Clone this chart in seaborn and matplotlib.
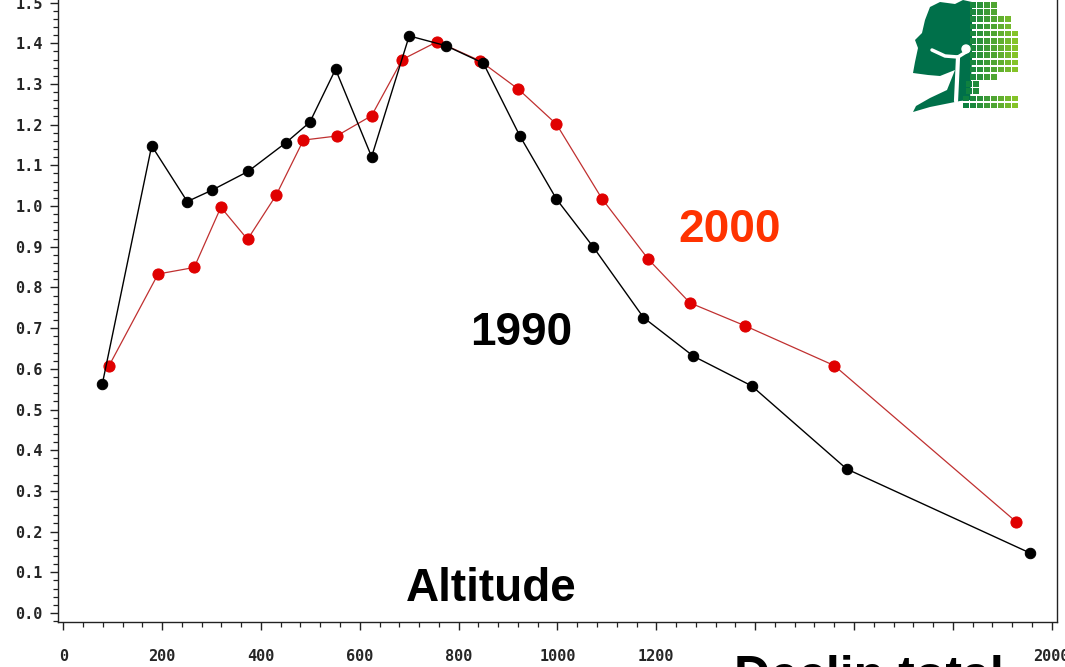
import numpy as np
import pandas as pd
import matplotlib
matplotlib.use('Agg')
import matplotlib.pyplot as plt
import seaborn as sns
from matplotlib.ticker import MultipleLocator
from matplotlib.patches import Polygon, Rectangle, Circle

# Werte
alt_1990 = [79, 179, 251, 301, 374, 451, 499, 551, 624, 700, 774, 850,
            924, 998, 1072, 1174, 1275, 1393, 1585, 1955]
val_1990 = [0.562, 1.148, 1.011, 1.039, 1.085, 1.156, 1.206, 1.336, 1.121, 1.418,
            1.394, 1.351, 1.172, 1.017, 0.900, 0.726, 0.631, 0.558, 0.354, 0.148]

alt_2000 = [93, 192, 265, 319, 373, 431, 486, 553, 624, 686, 757, 843,
            921, 998, 1090, 1184, 1268, 1379, 1560, 1928]
val_2000 = [0.608, 0.833, 0.849, 0.997, 0.918, 1.027, 1.162, 1.172, 1.222, 1.360,
            1.404, 1.357, 1.287, 1.201, 1.018, 0.869, 0.762, 0.706, 0.608, 0.224]

x_ticks = [0, 200, 400, 600, 800, 1000, 1200, 1400, 1600, 1800, 2000]
# 1400-1800 sind in der Vorlage vom Text unten verdeckt
x_labels = ['0', '200', '400', '600', '800', '1000', '1200', '', '', '', '2000']

df90 = pd.DataFrame({'alt': alt_1990, 'val': val_1990})
df00 = pd.DataFrame({'alt': alt_2000, 'val': val_2000})

sns.set_style('white')
plt.rcParams['font.family'] = ['Liberation Sans', 'DejaVu Sans']

W, H = 1065, 667
fig = plt.figure(figsize=(W / 100, H / 100), dpi=100)
ax = fig.add_axes([0.0547, 0.0679, 0.9375, 0.9405])

# 2000 zuerst, 1990 darueber
sns.lineplot(data=df00, x='alt', y='val', ax=ax, sort=False, estimator=None,
             color='#c03030', linewidth=0.9, marker='o', markersize=8,
             markerfacecolor='#e00000', markeredgecolor='#e00000')
sns.lineplot(data=df90, x='alt', y='val', ax=ax, sort=False, estimator=None,
             color='black', linewidth=1.0, marker='o', markersize=7.5,
             markerfacecolor='black', markeredgecolor='black')

ax.set_xlim(-10, 2010)
ax.set_ylim(-0.0214, 1.52)
ax.set_xticks(x_ticks)
ax.set_xticklabels(x_labels)
ax.xaxis.set_minor_locator(MultipleLocator(40))
ax.yaxis.set_major_locator(MultipleLocator(0.1))
ax.yaxis.set_minor_locator(MultipleLocator(0.02))
ax.set_xlabel('')
ax.set_ylabel('')

for s in ['left', 'bottom', 'right', 'top']:
    ax.spines[s].set_color('#222222')
    ax.spines[s].set_linewidth(1.0)

ax.tick_params(which='major', direction='out', length=6, width=1.0, color='#222222')
ax.tick_params(which='minor', direction='out', length=3.5, width=0.9, color='#222222')
ax.tick_params(axis='x', which='major', pad=14)
ax.tick_params(axis='y', which='major', pad=5)
ax.tick_params(axis='x', which='both', bottom=True, top=False)
ax.tick_params(axis='y', which='both', left=True, right=False)
for lab in ax.get_xticklabels() + ax.get_yticklabels():
    lab.set_fontfamily('DejaVu Sans Mono')
    lab.set_fontweight('bold')
    lab.set_fontsize(11)

# Beschriftungen (Positionen in Pixeln der Vorlage)
fig.text(730 / W, 1 - 230 / H, '2000', color='#ff3300', fontsize=33,
         fontweight='bold', ha='center', va='center')
fig.text(521 / W, 1 - 333 / H, '1990', color='black', fontsize=33,
         fontweight='bold', ha='center', va='center')
fig.text(491 / W, 1 - 589 / H, 'Altitude', color='black', fontsize=33,
         fontweight='bold', ha='center', va='center')
fig.text(734 / W, 1 - 655 / H, 'Declin total', color='black', fontsize=36,
         fontweight='bold', ha='left', va='top', zorder=10)

# Logo (Baum) oben rechts, vereinfacht
lg = fig.add_axes([905 / W, 1 - 115 / H, 115 / W, 115 / H])
lg.set_xlim(905, 1020)
lg.set_ylim(115, 0)
lg.axis('off')
crown = [(930, 7), (940, 2), (955, 4), (963, 0), (972, 2), (972, 60), (970, 100),
         (960, 101), (945, 104), (930, 107), (913, 112), (916, 106), (930, 98),
         (947, 90), (955, 70), (940, 76), (928, 75), (913, 73), (915, 62),
         (918, 48), (915, 40), (922, 33), (925, 20)]
lg.add_patch(Polygon(crown, closed=True, color='#00704a', lw=0))
for row in range(15):
    yy = 2 + row * 7.2
    if yy < 15:
        x0, x1 = 970, 993
    elif yy < 25:
        x0, x1 = 970, 1006
    elif yy < 68:
        x0, x1 = 970, 1014
    elif yy < 80:
        x0, x1 = 970, 996
    elif yy < 95:
        x0, x1 = 966, 980
    else:
        x0, x1 = 963, 1014
    xx = x0
    while xx < x1:
        f = min(max((xx - 965) / 50, 0), 1)
        col = (0.05 + 0.5 * f, 0.5 + 0.28 * f, 0.25 - 0.1 * f)
        lg.add_patch(Rectangle((xx, yy), 5.5, 5.5, color=col, lw=0))
        xx += 7
lg.plot([932, 945, 958, 966], [50, 56, 57, 52], color='white', lw=2.5)
lg.plot([958, 957, 956], [57, 80, 101], color='white', lw=3)
lg.add_patch(Circle((966, 49), 4, color='white'))

fig.savefig('out.png', dpi=100)
